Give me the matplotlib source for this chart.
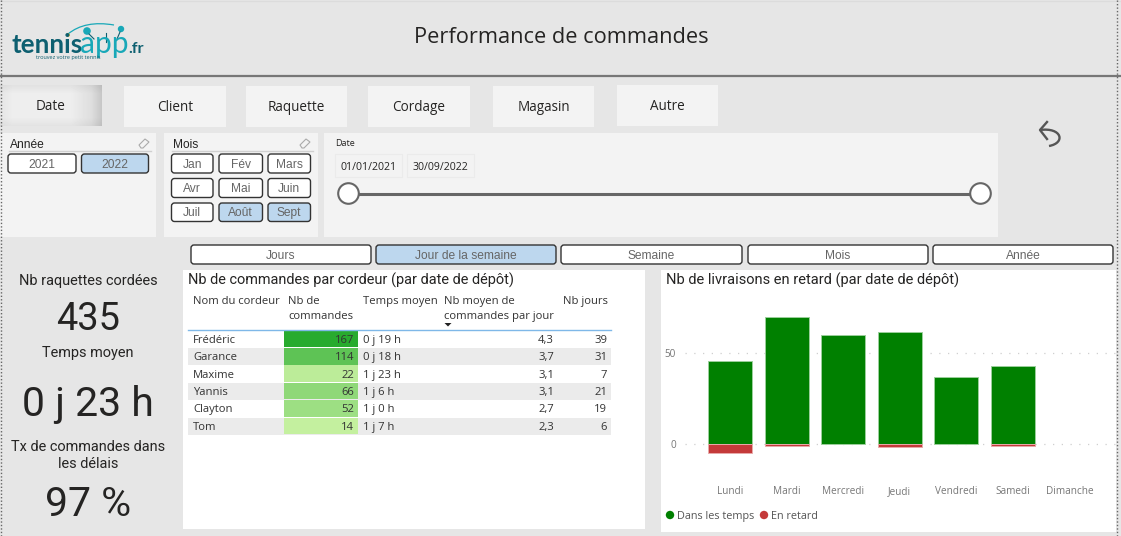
import matplotlib
matplotlib.use("Agg")
import matplotlib.pyplot as plt
import numpy as np
from matplotlib.colors import LinearSegmentedColormap, Normalize
from matplotlib.patches import Circle, FancyBboxPatch, PathPatch, Polygon, Rectangle
from matplotlib.path import Path

W, H = 1121, 536

# data
jours = ["Lundi", "Mardi", "Mercredi", "Jeudi", "Vendredi", "Samedi", "Dimanche"]
dans_les_temps = [46, 70, 60, 62, 37, 43, 0]
en_retard = [-5, -1, 0, -2, 0, -1, 0]

cordeurs = ["Frédéric", "Garance", "Maxime", "Yannis", "Clayton", "Tom"]
nb_commandes = [167, 114, 22, 66, 52, 14]
temps_moyen = ["0 j 19 h", "0 j 18 h", "1 j 23 h", "1 j 6 h", "1 j 0 h", "1 j 7 h"]
moy_par_jour = ["4,3", "3,7", "3,1", "3,1", "2,7", "2,3"]
nb_jours = [39, 31, 7, 21, 19, 6]

onglets = ["Date", "Client", "Raquette", "Cordage", "Magasin", "Autre"]
mois = ["Jan", "Fév", "Mars", "Avr", "Mai", "Juin", "Juil", "Août", "Sept"]
mois_actifs = ["Août", "Sept"]
annees = ["2021", "2022"]
periodes = ["Jours", "Jour de la semaine", "Semaine", "Mois", "Année"]

UI = ["Open Sans", "DejaVu Sans"]
DIN = ["Roboto", "DejaVu Sans"]
SLICER = ["Liberation Sans", "DejaVu Sans"]
LOGO = ["Lato", "DejaVu Sans"]
BLUE = "#bdd7ee"
PANEL = "#f3f3f3"
TEAL = "#0d5f70"
CYAN = "#18a8b8"
GREEN = "#008000"
RED = "#c43a3a"


def px(size):
    return size * 72 / 100


fig = plt.figure(figsize=(W / 100, H / 100), dpi=100, facecolor="#e6e6e6")
bg = fig.add_axes([0, 0, 1, 1])
bg.set_axis_off()


def rect(x0, y0, x1, y1, color, z=1):
    bg.add_patch(Rectangle((x0, y0), x1 - x0, y1 - y0, fc=color, ec="none", zorder=z))


def txt(x, y, s, size, color="#252423", ha="center", family=UI, **kw):
    # va center sits a bit high for these fonts, push down with the size
    bg.text(x, y + size * 0.1, s, fontsize=px(size), color=color, ha=ha, va="center", family=family, zorder=5, **kw)


def bouton(x0, y0, x1, y1, label, actif=False, size=12):
    bg.add_patch(FancyBboxPatch((x0, y0), x1 - x0, y1 - y0, boxstyle="round,pad=0,rounding_size=3",
                                fc=BLUE if actif else "white", ec="#333333", lw=1.0, zorder=3))
    txt((x0 + x1) / 2, (y0 + y1) / 2, label, size, color="#666666", family=SLICER)


def gomme(x, y):
    bg.add_patch(Polygon([(x - 5, y + 1), (x + 1, y - 5), (x + 5, y - 2), (x - 1, y + 4), (x - 3, y + 4)],
                         fc="none", ec="#aaaaaa", lw=0.8, zorder=3))


# top band
bg.plot([0, W], [76, 76], color="#777777", lw=1.6, zorder=2)
bg.plot([0, W], [0.5, 0.5], color="#dcdcdc", lw=1, zorder=2)
bg.plot([0.5, 0.5], [0, H], color="#666666", lw=1, ls=(0, (1, 1.5)), zorder=6)
bg.plot([1116.5, 1116.5], [0, H], color="#666666", lw=1, ls=(0, (1, 1.5)), zorder=6)
txt(561, 35, "Performance de commandes", 21.8)

# logo
bg.text(12, 53, "tennis", fontsize=px(26), color=TEAL, ha="left", va="baseline", family=LOGO, fontweight="bold", zorder=5)
bg.text(80, 53, "app", fontsize=px(30), color=CYAN, ha="left", va="baseline", family=LOGO, zorder=5)
bg.text(128, 53, ".fr", fontsize=px(16), color=TEAL, ha="left", va="baseline", family=LOGO, fontweight="bold", zorder=5)
bg.text(36, 59.5, "trouvez votre petit tennis", fontsize=px(5.5), color=TEAL, ha="left", va="baseline", family=UI, zorder=6)
bg.add_patch(PathPatch(Path([(68, 34), (85, 20), (114, 25)], [Path.MOVETO, Path.CURVE3, Path.CURVE3]),
                       fc="none", ec=CYAN, lw=0.9, zorder=4))
bg.add_patch(Circle((68, 35), 1.8, fc="#f5b400", ec="none", zorder=4))
bg.add_patch(Circle((87, 31), 3.8, fc=CYAN, ec="none", zorder=4))
bg.add_patch(Circle((121, 29), 3.2, fc=CYAN, ec="none", zorder=4))
bg.plot([89, 94], [34, 39], color=TEAL, lw=0.8, zorder=4)
bg.plot([120, 117], [32, 39], color=TEAL, lw=0.8, zorder=4)
bg.plot([106, 106], [33, 42], color=TEAL, lw=0.8, zorder=4)

# tabs
tabs_x = [(0, 102), (124, 226), (246, 347), (368, 470), (493, 594), (617, 718)]
tabs_y = [(85, 126), (86, 127), (86, 127), (86, 127), (86, 127), (85, 126)]
for nom, (x0, x1), (y0, y1) in zip(onglets, tabs_x, tabs_y):
    if nom == "Date":
        # pressed tab: light centre, shading towards the edges
        gx = np.interp(np.linspace(0, 1, 102), [0, 0.12, 0.7, 0.9, 1], [0.90, 0.93, 0.93, 0.87, 0.78])
        gy = np.interp(np.linspace(0, 1, 41), [0, 0.2, 0.8, 1], [0.95, 1, 1, 0.96])
        bg.imshow(np.outer(gy, gx), extent=(x0, x1, y1, y0), cmap="gray", vmin=0, vmax=1, aspect="auto",
                  interpolation="nearest", zorder=2)
    else:
        rect(x0, y0, x1, y1, PANEL)
    txt((x0 + x1) / 2, (y0 + y1) / 2, nom, 13.5)

# slicers
rect(0, 133, 156, 237, PANEL)
rect(164, 133, 318, 237, PANEL)
rect(324, 133, 998, 237, PANEL)
txt(10, 144, "Année", 12, ha="left", family=SLICER)
txt(173, 144, "Mois", 12, ha="left", family=SLICER)
bg.plot([9, 151], [150.5, 150.5], color="#d0d0d0", lw=1, zorder=2)
bg.plot([172, 313], [150.5, 150.5], color="#d0d0d0", lw=1, zorder=2)
gomme(144, 144)
gomme(305, 144)
bouton(8, 154, 76, 173, annees[0])
bouton(81.5, 154, 148.5, 173, annees[1], actif=True)
col_x = [(171.5, 213), (219, 262.5), (268, 310.5)]
row_y = [(154, 173), (178.5, 197.5), (203, 221.5)]
for i, m in enumerate(mois):
    x0, x1 = col_x[i % 3]
    y0, y1 = row_y[i // 3]
    bouton(x0, y0, x1, y1, m, actif=m in mois_actifs)

# date range
txt(335.5, 143, "Date", 9, ha="left")
for (x0, x1), d in zip([(335, 402), (407, 474)], ["01/01/2021", "30/09/2022"]):
    bg.add_patch(Rectangle((x0, 154), x1 - x0, 23, fc=PANEL, ec="#ebebeb", lw=0.8, zorder=2))
    txt((x0 + x1) / 2, 166, d, 10.5)
bg.plot([348, 980], [193.5, 193.5], color="#666666", lw=2.2, zorder=2, solid_capstyle="butt")
for cx in [348.5, 980.5]:
    bg.add_patch(Circle((cx, 193.5), 10.3, fc="white", ec="#666666", lw=1.5, zorder=3))

# undo arrow
fleche = Path([(1040, 130), (1062, 127), (1066, 143), (1049, 146)],
              [Path.MOVETO, Path.CURVE4, Path.CURVE4, Path.CURVE4])
bg.add_patch(PathPatch(fleche, fc="none", ec="#555555", lw=1.7, zorder=3))
bg.plot([1047, 1040, 1047], [122, 130, 139], color="#555555", lw=1.7, zorder=3)

# period buttons
per_x = [(191, 371), (376, 556), (561, 742), (748, 928), (933, 1113)]
for i, (p, (x0, x1)) in enumerate(zip(periodes, per_x)):
    bouton(x0, 245, x1, 264, p, actif=i == 1, size=12)

# KPI column
txt(88, 280, "Nb raquettes cordées", 14.5, family=DIN)
txt(88, 316, "435", 38, family=DIN)
txt(88, 352, "Temps moyen", 14.5, family=DIN)
txt(88, 400, "0 j 23 h", 41, family=DIN)
txt(88, 446, "Tx de commandes dans", 14.5, family=DIN)
txt(88, 463, "les délais", 14.5, family=DIN)
txt(88, 500, "97 %", 41, family=DIN)

# table panel
rect(183, 270, 645, 529, "white")
txt(188, 279, "Nb de commandes par cordeur (par date de dépôt)", 14.5, ha="left", family=DIN)
txt(193, 300, "Nom du cordeur", 11.3, ha="left", color="#333333")
txt(288, 300, "Nb de", 11.3, ha="left", color="#333333")
txt(288, 315, "commandes", 11.3, ha="left", color="#333333")
txt(363, 300, "Temps moyen", 11.3, ha="left", color="#333333")
txt(444, 300, "Nb moyen de", 11.3, ha="left", color="#333333")
txt(444, 315, "commandes par jour", 11.3, ha="left", color="#333333")
txt(563, 300, "Nb jours", 11.3, ha="left", color="#333333")
bg.add_patch(Polygon([(444.5, 323), (451.5, 323), (448, 326.5)], fc="#222222", ec="none", zorder=4))
bg.plot([188, 611], [329.7, 329.7], color="#7fb8e8", lw=1, zorder=4)

vert = LinearSegmentedColormap.from_list("vert", ["#c4f09f", "#28ab2e"])
norm = Normalize(min(nb_commandes), max(nb_commandes))
ROW0, ROWH = 330.3, 17.45
for i, c in enumerate(cordeurs):
    y0 = ROW0 + i * ROWH
    yc = y0 + ROWH / 2
    if i % 2 == 1:
        rect(188, y0, 611, y0 + ROWH, "#ebebeb")
    rect(283.5, y0, 358, y0 + ROWH - 0.6, vert(norm(nb_commandes[i])), z=2)
    txt(193, yc, c, 11.3, ha="left", color="#333333")
    txt(354, yc, str(nb_commandes[i]), 11.3, ha="right", color="#333333")
    txt(363, yc, temps_moyen[i], 11.3, ha="left", color="#333333")
    txt(554, yc, moy_par_jour[i], 11.3, ha="right", color="#333333")
    txt(607, yc, str(nb_jours[i]), 11.3, ha="right", color="#333333")

# chart panel
rect(661, 270, 1116, 532, "white")
txt(666, 279, "Nb de livraisons en retard (par date de dépôt)", 14.6, ha="left", family=DIN)

# legend drawn by hand, the two labels do not line up in fig.legend
bg.add_patch(Circle((670, 515), 4.2, fc=GREEN, ec="none", zorder=4))
txt(677, 515.5, "Dans les temps", 10.9, color="#555555", ha="left")
bg.add_patch(Circle((764, 515), 4.2, fc=RED, ec="none", zorder=4))
txt(771, 515.5, "En retard", 10.9, color="#555555", ha="left")

bg.set_xlim(0, W)
bg.set_ylim(H, 0)

# bar chart, axes placed in pixels so the scale falls on the same rows as the reference
left, right, top, bottom = 685, 1116, 300, 478
ax = fig.add_axes([left / W, 1 - bottom / H, (right - left) / W, (bottom - top) / H])
ax.patch.set_alpha(0)
x_pos = np.arange(len(jours))
temps = np.array(dans_les_temps, dtype=float)
retard = np.array(en_retard, dtype=float)
# empty days must not leave a hairline from the bar edge
ax.bar(x_pos[temps != 0], temps[temps != 0], width=0.78, color=GREEN, edgecolor="#9bcf9b", lw=0.7, zorder=3)
ax.bar(x_pos[retard != 0], retard[retard != 0], width=0.78, color=RED, edgecolor="#e8aaaa", lw=0.7, zorder=3)
ax.set_xlim((left - 730) / 56.6, (right - 730) / 56.6)
ax.set_ylim((443.7 - bottom) / 1.808, (443.7 - top) / 1.808)
ax.set_yticks([0, 50])
ax.set_xticks(x_pos, jours)
ax.tick_params(length=0, labelcolor="#777777", labelsize=px(10))
ax.tick_params(axis="x", pad=11.5)
ax.tick_params(axis="y", pad=6.5)
ax.grid(axis="y", color="#cfcfcf", ls=(0, (1, 6)), lw=0.9, zorder=1)
for s in ax.spines.values():
    s.set_visible(False)
for lab in ax.get_xticklabels() + ax.get_yticklabels():
    lab.set_family(UI)
for lab in ax.get_xticklabels():
    lab.set_verticalalignment("baseline")

fig.savefig("out.png", dpi=100, facecolor=fig.get_facecolor())
